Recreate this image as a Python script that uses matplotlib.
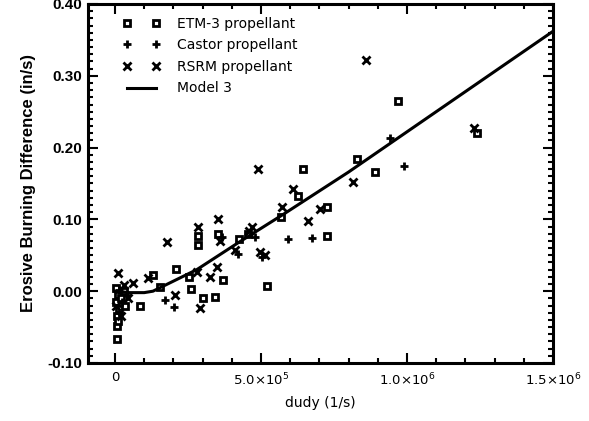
import matplotlib.pyplot as plt
from matplotlib.ticker import MultipleLocator, FixedLocator, FixedFormatter
import numpy as np

# dudy in units of 1e6 1/s, erosive burning difference in in/s
etm_x = [0.970, 1.238, 0.828, 0.890, 0.645, 0.628, 0.727, 0.570, 0.725, 0.283,
         0.283, 0.354, 0.426, 0.209, 0.131, 0.154, 0.086, 0.255, 0.259, 0.371,
         0.303, 0.342, 0.519, 0.008, 0.008, 0.455,
         0.005, 0.010, 0.005, 0.015, 0.008, 0.020, 0.030, 0.035, 0.010]
etm_y = [0.265, 0.220, 0.184, 0.166, 0.170, 0.133, 0.117, 0.104, 0.077, 0.065,
         0.077, 0.080, 0.073, 0.031, 0.023, 0.006, -0.020, 0.020, 0.003, 0.015,
         -0.010, -0.008, 0.007, -0.049, -0.067, 0.080,
         0.005, -0.005, -0.015, -0.025, -0.035, -0.010, 0.000, -0.020, -0.042]

castor_x = [0.942, 0.990, 0.594, 0.673, 0.171, 0.202, 0.420, 0.505, 0.365, 0.480,
            0.015, 0.025, 0.040, 0.012]
castor_y = [0.213, 0.174, 0.072, 0.074, -0.012, -0.022, 0.052, 0.048, 0.075, 0.076,
            0.002, -0.015, -0.005, -0.030]

rsrm_x = [0.861, 1.229, 0.816, 0.491, 0.611, 0.702, 0.662, 0.571, 0.468, 0.354,
          0.283, 0.177, 0.011, 0.063, 0.112, 0.205, 0.280, 0.325, 0.348, 0.291,
          0.360, 0.410, 0.495, 0.460, 0.515,
          0.005, 0.030, 0.045, 0.020]
rsrm_y = [0.322, 0.227, 0.152, 0.170, 0.143, 0.115, 0.098, 0.117, 0.090, 0.101,
          0.090, 0.068, 0.026, 0.012, 0.018, -0.005, 0.027, 0.020, 0.034, -0.024,
          0.070, 0.058, 0.055, 0.084, 0.050,
          -0.020, 0.008, -0.010, -0.035]

model_x = [0.0, 0.05, 0.10, 0.13, 0.15, 0.19, 0.25, 0.28, 0.42, 0.58, 0.80, 1.00, 1.25, 1.50]
model_y = [0.0, -0.002, -0.002, 0.000, 0.004, 0.012, 0.024, 0.030, 0.067, 0.108, 0.166, 0.222, 0.292, 0.362]

fig = plt.figure(figsize=(5.89, 4.21), dpi=100)
ax = fig.add_axes([0.1494, 0.1378, 0.7895, 0.8527])

mk = dict(linestyle='none', color='black', markeredgewidth=2.0)
ax.plot(np.array(etm_x) * 1e6, etm_y, marker='s', markersize=5, markerfacecolor='white',
        label='ETM-3 propellant', **mk)
ax.plot(np.array(castor_x) * 1e6, castor_y, marker='+', markersize=6,
        label='Castor propellant', **mk)
ax.plot(np.array(rsrm_x) * 1e6, rsrm_y, marker='x', markersize=5.5,
        label='RSRM propellant', **mk)
ax.plot(np.array(model_x) * 1e6, model_y, color='black', linewidth=2.2, label='Model 3')

ax.set_xlim(-0.0925e6, 1.5e6)
ax.set_ylim(-0.10, 0.40)

for s in ax.spines.values():
    s.set_linewidth(2.2)

ax.xaxis.set_major_locator(FixedLocator([0, 0.5e6, 1.0e6, 1.5e6]))
ax.xaxis.set_major_formatter(FixedFormatter(['0', r'5.0$\times$10$^5$',
                                             r'1.0$\times$10$^6$', r'1.5$\times$10$^6$']))
ax.xaxis.set_minor_locator(MultipleLocator(1e5))
ax.yaxis.set_major_locator(MultipleLocator(0.1))
ax.yaxis.set_minor_locator(MultipleLocator(0.01))
ax.yaxis.set_major_formatter(plt.FuncFormatter(lambda v, p: f'{v:.2f}'))

ax.tick_params(which='both', direction='in', top=True, right=True, width=1.5)
ax.tick_params(which='major', length=7)
ax.tick_params(which='minor', length=3.5)
ax.tick_params(axis='x', pad=6, labelsize=9.5)
ax.tick_params(axis='y', pad=4)
for t in ax.get_yticklabels():
    t.set_fontfamily('Liberation Sans')
    t.set_fontweight('bold')
    t.set_fontsize(11)

ax.set_xlabel('dudy (1/s)', fontsize=10, labelpad=6)
ax.set_ylabel('Erosive Burning Difference (in/s)', fontsize=12, fontweight='bold',
              fontfamily='Liberation Sans', labelpad=8)

ax.legend(loc='upper left', bbox_to_anchor=(0.075, 0.965), frameon=False,
          numpoints=2, handlelength=2.7, handletextpad=1.2, labelspacing=0.55,
          borderpad=0, borderaxespad=0, fontsize=10)

fig.savefig('out.png', dpi=100)
